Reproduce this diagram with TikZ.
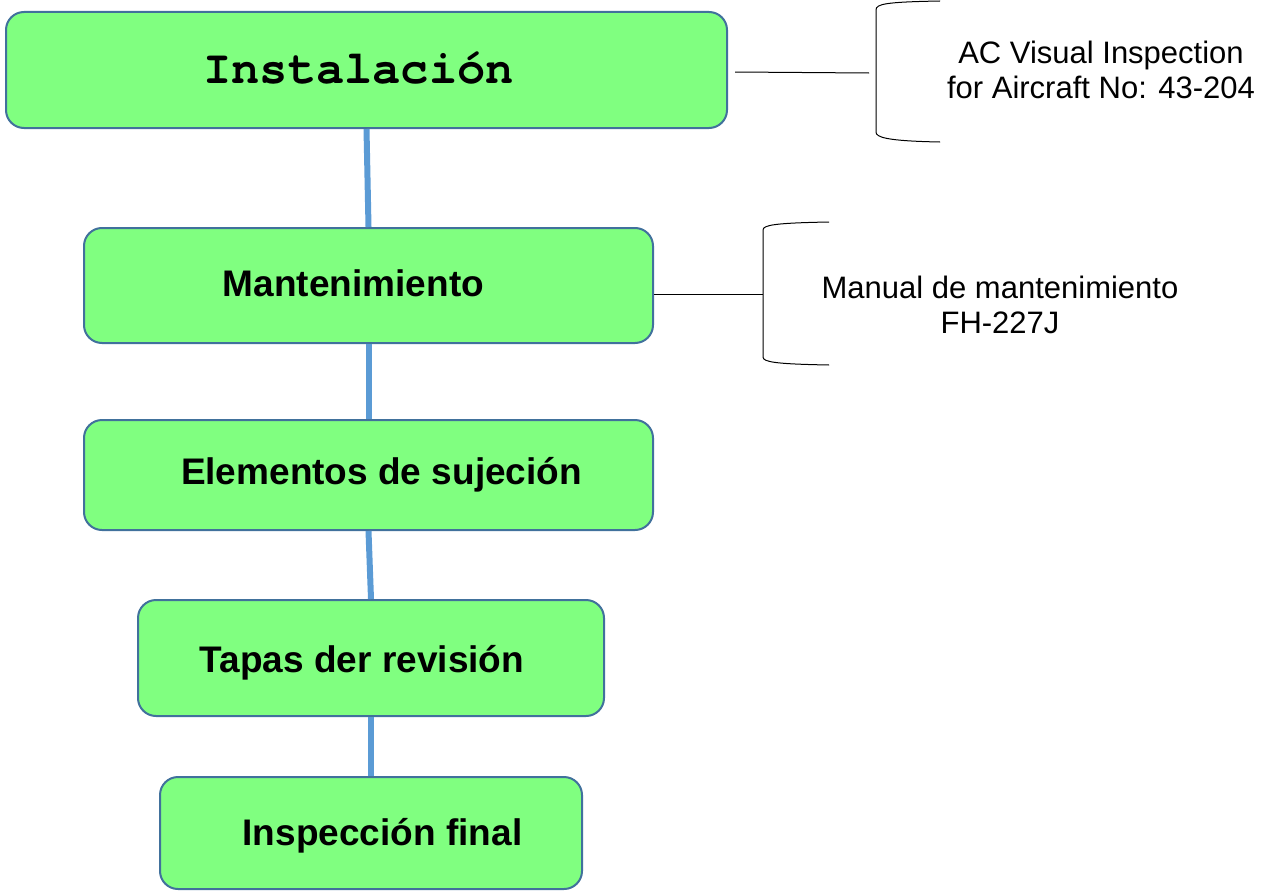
\documentclass[tikz,border=0pt]{standalone}
\usepackage{fontspec}
\setmainfont{Liberation Sans}
\newfontfamily\monofont{TeX Gyre Cursor}
\definecolor{boxfill}{HTML}{80FF80}
\definecolor{boxline}{HTML}{41719C}
\definecolor{conn}{HTML}{5B9BD5}
\newcommand{\vmove}[2]{\raisebox{#1}[\height][\depth]{#2}}
\tikzset{
  stepbox/.style={draw=boxline, line width=2pt, fill=boxfill, rounded corners=18pt,
    inner sep=0pt, font=\fontsize{37}{44}\selectfont\bfseries},
  link/.style={draw=conn, line width=6pt},
  thin/.style={draw=black, line width=1pt},
  note/.style={align=center, inner sep=0pt, font=\fontsize{31}{35}\selectfont},
}
\begin{document}
\begin{tikzpicture}[x=1pt, y=-1pt]
\useasboundingbox (0,0) rectangle (1273,891);
% boxes
\node[stepbox, minimum width=721pt, minimum height=116pt, font=\fontsize{47}{50}\selectfont\monofont\bfseries] (b1) at (366.5,70) {\hspace*{-16pt}\vmove{2pt}{Instalación}};
\node[stepbox, minimum width=569pt, minimum height=115pt] (b2) at (368.5,285.5) {\hspace*{-30pt}\vmove{2pt}{Mantenimiento}};
\node[stepbox, minimum width=569pt, minimum height=110pt] (b3) at (368.5,475) {\hspace*{26pt}Elementos de sujeción};
\node[stepbox, minimum width=466pt, minimum height=116pt] (b4) at (371,658) {\hspace*{-18pt}\vmove{-5pt}{Tapas der revisión}};
\node[stepbox, minimum width=422pt, minimum height=112pt] (b5) at (371,833) {\hspace*{23pt}\vmove{-3pt}{Inspección final}};
% connectors
\path[link] (b1.south) -- (b2.north);
\path[link] (b2.south) -- (b3.north);
\path[link] (b3.south) -- (b4.north);
\path[link] (b4.south) -- (b5.north);
% bracket 1
\coordinate (k1) at (869,73);
\coordinate (k1s) at (735,72);
\path[thin] (k1s) -- (k1);
\coordinate (k1t) at (940,1);
\coordinate (k1b) at (940,142);
\path[thin] (k1t) .. controls (885,2) and (876,4) .. (876,10) -- (876,132) .. controls (876,137) and (885,141) .. (k1b);
\node[note] (n1) at (1101,70) {AC Visual Inspection\\for Aircraft No: 43-204};
% bracket 2
\coordinate (k2) at (763,294);
\path[thin] (b2.east |- k2) -- (k2);
\coordinate (k2t) at (829,222);
\coordinate (k2b) at (829,365);
\path[thin] (k2t) .. controls (775,223) and (763,225) .. (763,230) -- (763,357) .. controls (763,362) and (775,364) .. (k2b);
\node[note] (n2) at (1000,305) {Manual de mantenimiento\\FH-227J};
\end{tikzpicture}
\end{document}
